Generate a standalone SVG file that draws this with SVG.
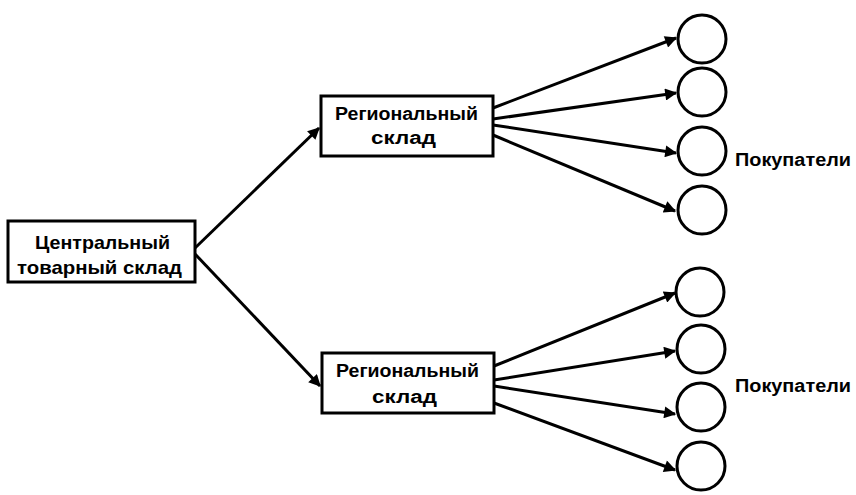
<svg xmlns="http://www.w3.org/2000/svg" width="856" height="495" viewBox="0 0 856 495">
<style>
.box{fill:#fff;stroke:#000;stroke-width:3}
.c{fill:#fff;stroke:#000;stroke-width:3}
.t{font-family:"Liberation Sans",Arial,sans-serif;font-weight:bold;fill:#000}
.a{stroke:#000;stroke-width:3;fill:none;marker-end:url(#ah)}
</style>
<defs>
<marker id="ah" viewBox="0 0 10 10" refX="9" refY="5" markerWidth="5" markerHeight="4" orient="auto" markerUnits="strokeWidth">
<path d="M0,0 L10,5 L0,10 Z" fill="#000"/>
</marker>
</defs>
<g id="connectors">
<line class="a" x1="195" y1="248" x2="319" y2="128"/>
<line class="a" x1="195" y1="254" x2="320" y2="386"/>
<line class="a" x1="493" y1="108" x2="676" y2="38"/>
<line class="a" x1="493" y1="119" x2="676" y2="93"/>
<line class="a" x1="493" y1="125" x2="676" y2="153"/>
<line class="a" x1="493" y1="135" x2="675" y2="211"/>
<line class="a" x1="494" y1="366" x2="675" y2="293"/>
<line class="a" x1="494" y1="380" x2="675" y2="351"/>
<line class="a" x1="494" y1="386" x2="675" y2="414"/>
<line class="a" x1="494" y1="403" x2="675" y2="470"/>
</g>
<g id="central">
<rect class="box" x="8" y="221" width="187" height="61"/>
<text class="t" x="35" y="249" font-size="19" textLength="135" lengthAdjust="spacingAndGlyphs">Центральный</text>
<text class="t" x="17" y="274" font-size="19" textLength="165" lengthAdjust="spacingAndGlyphs">товарный склад</text>
</g>
<g id="regional1">
<rect class="box" x="321" y="96" width="172" height="60"/>
<text class="t" x="335" y="120" font-size="18" textLength="143" lengthAdjust="spacingAndGlyphs">Региональный</text>
<text class="t" x="371" y="144" font-size="18" textLength="65" lengthAdjust="spacingAndGlyphs">склад</text>
</g>
<g id="regional2">
<rect class="box" x="322" y="353" width="172" height="60"/>
<text class="t" x="336" y="377" font-size="18" textLength="143" lengthAdjust="spacingAndGlyphs">Региональный</text>
<text class="t" x="372" y="403" font-size="18" textLength="65" lengthAdjust="spacingAndGlyphs">склад</text>
</g>
<g id="buyers1">
<circle class="c" cx="702" cy="39" r="24"/>
<circle class="c" cx="702" cy="92" r="24"/>
<circle class="c" cx="702" cy="151" r="24"/>
<circle class="c" cx="702" cy="210" r="24"/>
<text class="t" x="735" y="166" font-size="18" textLength="116" lengthAdjust="spacingAndGlyphs">Покупатели</text>
</g>
<g id="buyers2">
<circle class="c" cx="700" cy="292" r="24"/>
<circle class="c" cx="701" cy="349" r="24"/>
<circle class="c" cx="701" cy="407" r="24"/>
<circle class="c" cx="701" cy="466" r="24"/>
<text class="t" x="735" y="392" font-size="18" textLength="116" lengthAdjust="spacingAndGlyphs">Покупатели</text>
</g>
</svg>
